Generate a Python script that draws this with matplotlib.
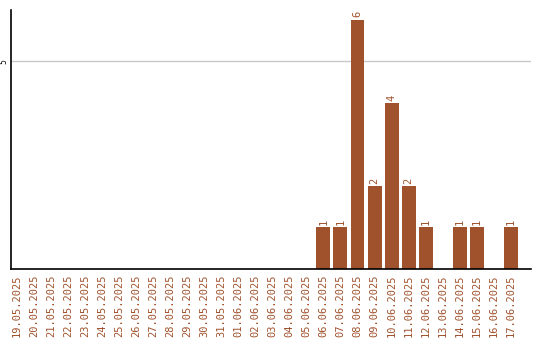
import matplotlib.pyplot as plt
import numpy as np

dates = ["19.05.2025", "20.05.2025", "21.05.2025", "22.05.2025", "23.05.2025",
         "24.05.2025", "25.05.2025", "26.05.2025", "27.05.2025", "28.05.2025",
         "29.05.2025", "30.05.2025", "31.05.2025", "01.06.2025", "02.06.2025",
         "03.06.2025", "04.06.2025", "05.06.2025", "06.06.2025", "07.06.2025",
         "08.06.2025", "09.06.2025", "10.06.2025", "11.06.2025", "12.06.2025",
         "13.06.2025", "14.06.2025", "15.06.2025", "16.06.2025", "17.06.2025"]
counts = [0, 0, 0, 0, 0, 0, 0, 0, 0, 0,
          0, 0, 0, 0, 0, 0, 0, 0, 1, 1,
          6, 2, 4, 2, 1, 0, 1, 1, 0, 1]

color = "#a0522d"

fig = plt.figure(figsize=(5.4, 3.4), dpi=100)
ax = fig.add_axes([0.0204, 0.2088, 0.9626, 0.7618])

x = np.arange(len(dates))
ax.bar(x, counts, width=0.82, color=color, zorder=2)

for xi, c in zip(x, counts):
    if c > 0:
        ax.text(xi, c + 0.05, str(c), rotation=90, ha="center", va="bottom",
                color=color, fontsize=7.5, family="DejaVu Sans Mono")

ax.set_xlim(-0.35, 30.18)
ax.set_ylim(0, 6.23)
ax.set_xticks(x)
ax.set_xticklabels(dates, rotation=90, color=color, fontsize=7.5,
                   family="DejaVu Sans Mono")
ax.set_yticks([5])
ax.set_yticklabels(["5"], rotation=90, va="center", fontsize=5.5)
ax.tick_params(length=0, pad=4)
ax.tick_params(axis="y", pad=2)
ax.yaxis.grid(True, color="#c8c8c8", linewidth=1, zorder=0)
for s in ["top", "right"]:
    ax.spines[s].set_visible(False)
ax.spines["left"].set_linewidth(1.2)
ax.spines["bottom"].set_linewidth(1.2)

fig.savefig("out.png", dpi=100)
